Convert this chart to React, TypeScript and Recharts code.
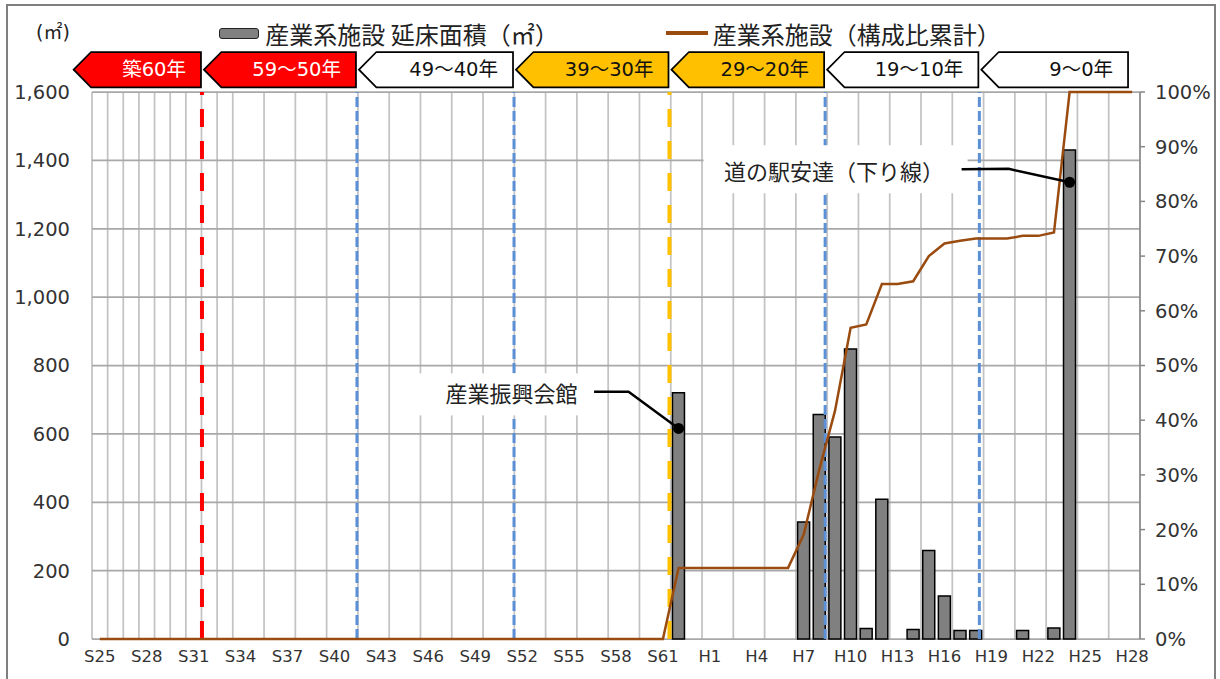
import React from 'react';
import {
  ComposedChart,
  Bar,
  Line,
  XAxis,
  YAxis,
  CartesianGrid,
  ReferenceLine,
  ReferenceArea,
  ReferenceDot,
  Legend,
} from 'recharts';

// ---------- data ----------
const categories = [
  'S25', 'S26', 'S27', 'S28', 'S29', 'S30', 'S31', 'S32', 'S33', 'S34',
  'S35', 'S36', 'S37', 'S38', 'S39', 'S40', 'S41', 'S42', 'S43', 'S44',
  'S45', 'S46', 'S47', 'S48', 'S49', 'S50', 'S51', 'S52', 'S53', 'S54',
  'S55', 'S56', 'S57', 'S58', 'S59', 'S60', 'S61', 'S62', 'S63',
  'H1', 'H2', 'H3', 'H4', 'H5', 'H6', 'H7', 'H8', 'H9', 'H10',
  'H11', 'H12', 'H13', 'H14', 'H15', 'H16', 'H17', 'H18', 'H19', 'H20',
  'H21', 'H22', 'H23', 'H24', 'H25', 'H26', 'H27', 'H28',
];

// 産業系施設 延床面積（㎡）
const floorArea: (number | null)[] = [
  null, null, null, null, null, null, null, null, null, null, // S25-S34
  null, null, null, null, null, null, null, null, null, null, // S35-S44
  null, null, null, null, null, null, null, null, null, null, // S45-S54
  null, null, null, null, null, null, null, 720, null, // S55-S63
  null, null, null, null, null, null, 342, 657, 591, 848, // H1-H10
  31, 409, null, 28, 259, 126, 25, 25, null, null, // H11-H20
  25, null, 32, 1430, null, null, null, null, // H21-H28
];

// 産業系施設（構成比累計）
const cumulativeShare: number[] = [
  0, 0, 0, 0, 0, 0, 0, 0, 0, 0,
  0, 0, 0, 0, 0, 0, 0, 0, 0, 0,
  0, 0, 0, 0, 0, 0, 0, 0, 0, 0,
  0, 0, 0, 0, 0, 0, 0, 0.13, 0.13,
  0.13, 0.13, 0.13, 0.13, 0.13, 0.13, 0.191, 0.31, 0.417, 0.569,
  0.575, 0.649, 0.649, 0.654, 0.70, 0.723, 0.728, 0.732, 0.732, 0.732,
  0.737, 0.737, 0.743, 1.0, 1.0, 1.0, 1.0, 1.0,
];

const leftTicks = [0, 200, 400, 600, 800, 1000, 1200, 1400, 1600];
const rightTicks = [0, 0.1, 0.2, 0.3, 0.4, 0.5, 0.6, 0.7, 0.8, 0.9, 1.0];
const boundaryTicks = [
  0, 1, 2, 3, 4, 5, 6, 7, 8, 9, 10, 11, 12, 13, 14, 15, 16, 17, 18, 19,
  20, 21, 22, 23, 24, 25, 26, 27, 28, 29, 30, 31, 32, 33, 34, 35, 36, 37, 38, 39,
  40, 41, 42, 43, 44, 45, 46, 47, 48, 49, 50, 51, 52, 53, 54, 55, 56, 57, 58, 59,
  60, 61, 62, 63, 64, 65, 66, 67,
];

// age bands (築年数)
const bandLabels = ['築60年', '59～50年', '49～40年', '39～30年', '29～20年', '19～10年', '9～0年'];
const bandEdges = [-1.3, 7.03, 16.94, 26.98, 36.92, 46.87, 56.73, 66.3];
const dividerPositions = [7.03, 16.94, 26.98, 36.92, 46.87, 56.73];

const calloutLabels = ['産業振興会館', '道の駅安達（下り線）'];
const calloutCategories = ['S62', 'H24'];
const calloutValues = [616, 1336];

const seriesNames = ['産業系施設 延床面積（㎡）', '産業系施設（構成比累計）'];

// ---------- styles ----------
const CJK = '"Noto Sans CJK JP", "Noto Sans CJK SC", sans-serif';
const NUM = '"DejaVu Sans", "Noto Sans CJK JP", sans-serif';
const BAR_FILL = '#808080';
const LINE_COLOR = '#9A4B0F';
const BAND_FILLS = ['#FF0000', '#FF0000', '#FFFFFF', '#FFC000', '#FFC000', '#FFFFFF', '#FFFFFF'];
const BAND_TEXT = ['#FFFFFF', '#FFFFFF', '#111111', '#111111', '#111111', '#111111', '#111111'];
const DIVIDER_STYLES = [
  { stroke: '#FF0000', width: 4, dash: '18 14' },
  { stroke: '#5B8FD6', width: 3, dash: '10 4' },
  { stroke: '#5B8FD6', width: 3, dash: '10 4' },
  { stroke: '#FFC000', width: 4, dash: '18 14' },
  { stroke: '#5B8FD6', width: 3, dash: '10 4' },
  { stroke: '#5B8FD6', width: 3, dash: '10 4' },
];
const CALLOUT_LAYOUT = [
  { box: [-260, -55, 172, 42], from: [-84.5, -36.6], elbow: [-50, -36.6], text: [-167, -36] },
  { box: [-366, -37, 264, 48], from: [-108, -13], elbow: [-61, -13.4], text: [-235.5, -12] },
];

// slot = category centre on the hidden linear axis used for boundaries
const rows = categories.map((year, i) => ({
  year,
  slot: i + 0.5,
  area: floorArea[i],
  share: cumulativeShare[i],
}));

const ArrowShape = (props: any) => {
  const { x, y, width, idx } = props;
  const tip = x + 2;
  const right = x + width - 1;
  const top = y - 40;
  const bottom = y - 4.7;
  const mid = (top + bottom) / 2;
  const neck = tip + 17.4;
  const pts = `${tip},${mid} ${neck},${top} ${right},${top} ${right},${bottom} ${neck},${bottom}`;
  return (
    <g>
      <polygon points={pts} fill={BAND_FILLS[idx]} stroke="#000" strokeWidth={1.75} strokeLinejoin="miter" />
      <text
        x={right - 15}
        y={mid}
        textAnchor="end"
        dominantBaseline="central"
        fontSize={19.5}
        fontFamily={NUM}
        fill={BAND_TEXT[idx]}
      >
        {bandLabels[idx]}
      </text>
    </g>
  );
};

const CalloutShape = (props: any) => {
  const { cx, cy, idx } = props;
  const L = CALLOUT_LAYOUT[idx];
  return (
    <g>
      <rect x={cx + L.box[0]} y={cy + L.box[1]} width={L.box[2]} height={L.box[3]} fill="#FFFFFF" />
      <text
        x={cx + L.text[0]}
        y={cy + L.text[1]}
        textAnchor="middle"
        dominantBaseline="central"
        fontSize={22}
        fontFamily={CJK}
        fill="#222"
      >
        {calloutLabels[idx]}
      </text>
      <polyline
        points={`${cx + L.from[0]},${cy + L.from[1]} ${cx + L.elbow[0]},${cy + L.elbow[1]} ${cx},${cy}`}
        fill="none"
        stroke="#000"
        strokeWidth={2.5}
      />
      <circle cx={cx} cy={cy} r={5.5} fill="#000" />
    </g>
  );
};

const renderLegend = (props: any) => {
  const payload = props.payload || [];
  return (
    <div
      style={{
        display: 'flex',
        justifyContent: 'center',
        alignItems: 'center',
        height: 40,
        fontFamily: CJK,
        fontSize: 24,
        color: '#222',
        whiteSpace: 'nowrap',
      }}
    >
      {payload.map((entry: any, i: number) => (
        <div key={i} style={{ display: 'flex', alignItems: 'center', marginRight: i === 0 ? 107 : 0 }}>
          {entry.type === 'line' ? (
            <span style={{ display: 'inline-block', width: 42, height: 4, background: LINE_COLOR, marginRight: 5 }} />
          ) : (
            <span
              style={{
                display: 'inline-block',
                width: 38,
                height: 9,
                background: BAR_FILL,
                border: '1.5px solid #222',
                borderRadius: 3,
                marginRight: 6,
              }}
            />
          )}
          <span>{entry.value}</span>
        </div>
      ))}
    </div>
  );
};

const renderUnit = (props: any) => {
  const vb = props.viewBox || { x: 0, y: 0 };
  return (
    <text x={vb.x + 53} y={vb.y - 60} textAnchor="middle" dominantBaseline="central" fontSize={19} fontFamily={NUM} fill="#222">
      (㎡)
    </text>
  );
};

export default function App() {
  return (
    <div style={{ position: 'absolute', left: 0, top: 0, width: 1220, height: 679, overflow: 'hidden', background: '#fff' }}>
      <div
        style={{
          position: 'absolute',
          left: 6,
          top: 4,
          width: 1210,
          height: 700,
          border: '2px solid #7f7f7f',
          boxSizing: 'border-box',
        }}
      />
      <div style={{ position: 'absolute', left: 0, top: 0 }}>
        <ComposedChart
          width={1220}
          height={679}
          data={rows}
          margin={{ top: 92, right: 0, bottom: 10, left: 0 }}
          barCategoryGap="11%"
        >
          <XAxis
            xAxisId="cat"
            dataKey="year"
            interval={2}
            tickLine={false}
            axisLine={false}
            tickSize={0}
            tickMargin={11}
            height={30}
            tick={{ fontSize: 16.5, fill: '#333', fontFamily: NUM }}
          />
          <XAxis
            xAxisId="num"
            dataKey="slot"
            type="number"
            scale="linear"
            domain={[0, 67]}
            ticks={boundaryTicks}
            allowDataOverflow
            hide
          />
          <YAxis
            yAxisId="left"
            domain={[0, 1600]}
            ticks={leftTicks}
            width={92}
            tickLine={false}
            axisLine={false}
            tickSize={0}
            tickMargin={22}
            tickFormatter={(v: number) => v.toLocaleString('en-US')}
            tick={{ fontSize: 19.5, fill: '#333', fontFamily: NUM }}
            label={{ value: '(㎡)', content: renderUnit }}
          />
          <YAxis
            yAxisId="right"
            orientation="right"
            domain={[0, 1]}
            ticks={rightTicks}
            width={80}
            tickSize={5}
            tickMargin={10}
            axisLine={{ stroke: '#868686', strokeWidth: 1.5 }}
            tickLine={{ stroke: '#868686', strokeWidth: 1.5 }}
            tickFormatter={(v: number) => `${Math.round(v * 100)}%`}
            tick={{ fontSize: 19.5, fill: '#333', fontFamily: NUM }}
          />
          <CartesianGrid xAxisId="num" yAxisId="left" horizontal={false} stroke="#C3C3C3" strokeWidth={1.75} />
          <CartesianGrid xAxisId="num" yAxisId="left" vertical={false} stroke="#A8A8A8" strokeWidth={1.75} />
          <Legend
            layout="horizontal"
            verticalAlign="middle"
            align="center"
            wrapperStyle={{ top: 13, left: 0, width: 1220, height: 40 }}
            content={renderLegend}
          />
          {dividerPositions.map((pos, i) => (
            <ReferenceLine
              key={`div-${i}`}
              xAxisId="num"
              yAxisId="left"
              x={pos}
              stroke={DIVIDER_STYLES[i].stroke}
              strokeWidth={DIVIDER_STYLES[i].width}
              strokeDasharray={DIVIDER_STYLES[i].dash}
              ifOverflow="visible"
            />
          ))}
          <Bar
            xAxisId="cat"
            yAxisId="left"
            dataKey="area"
            name={seriesNames[0]}
            fill={BAR_FILL}
            stroke="#000"
            strokeWidth={1.5}
            legendType="rect"
            isAnimationActive={false}
          />
          <Line
            xAxisId="cat"
            yAxisId="right"
            dataKey="share"
            name={seriesNames[1]}
            type="linear"
            stroke={LINE_COLOR}
            strokeWidth={2.5}
            dot={false}
            activeDot={false}
            legendType="line"
            isAnimationActive={false}
          />
          {bandLabels.map((lab, i) => (
            <ReferenceArea
              key={`band-${i}`}
              xAxisId="num"
              yAxisId="left"
              x1={bandEdges[i]}
              x2={bandEdges[i + 1]}
              ifOverflow="visible"
              shape={(p: any) => <ArrowShape {...p} idx={i} />}
            />
          ))}
          {calloutLabels.map((lab, i) => (
            <ReferenceDot
              key={`callout-${i}`}
              xAxisId="cat"
              yAxisId="left"
              x={calloutCategories[i]}
              y={calloutValues[i]}
              ifOverflow="visible"
              shape={(p: any) => <CalloutShape {...p} idx={i} />}
            />
          ))}
        </ComposedChart>
      </div>
    </div>
  );
}
